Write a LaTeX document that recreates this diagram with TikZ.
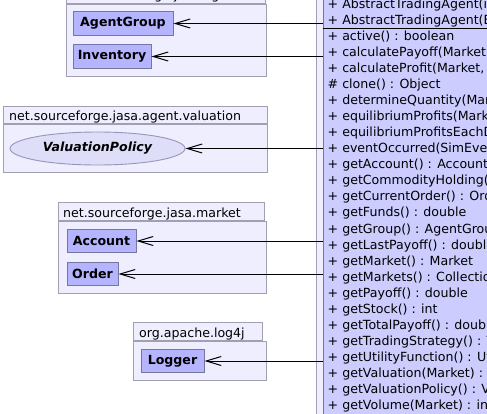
\documentclass[tikz,border=0pt]{standalone}
\usepackage{fontspec}
\setmainfont{DejaVu Sans}
\usepackage{xcolor}
\usepackage{tikz}
\usetikzlibrary{shapes.geometric, arrows.meta, positioning}
\definecolor{pkgfill}{RGB}{238,238,255}
\definecolor{pkgline}{RGB}{160,160,178}
\definecolor{bigfill}{RGB}{204,204,255}
\definecolor{clsfill}{RGB}{180,180,255}
\definecolor{clsline}{RGB}{118,118,160}
\definecolor{ellfill}{RGB}{222,222,248}
\definecolor{ellline}{RGB}{150,150,185}
\newcommand{\umlfont}{\fontsize{12.6pt}{15pt}\selectfont}

\begin{document}
\begin{tikzpicture}[
  x=1pt, y=-1pt,
  pkgbox/.style={rectangle, draw=pkgline, fill=pkgfill, line width=0.9pt, inner sep=0pt},
  pkgtxt/.style={inner sep=0pt, font=\umlfont},
  cls/.style={rectangle, draw=clsline, fill=clsfill, line width=0.9pt, inner sep=0pt,
              minimum height=23.5pt, font=\umlfont\bfseries},
  iface/.style={ellipse, draw=ellline, fill=ellfill, line width=0.9pt, inner sep=0pt,
                font=\umlfont\bfseries\itshape},
  bigcls/.style={rectangle, draw=clsline, fill=bigfill, line width=0.9pt, inner sep=0pt},
  row/.style={anchor=base west, inner sep=0pt, font=\umlfont},
  dep/.style={-{Straight Barb[length=15pt, width=9pt, line width=1pt]}, line width=1pt, black},
]
\useasboundingbox (0,0) rectangle (487,413);
\clip (0,0) rectangle (487,413);

% Paquete de la clase principal (derecha)
\node[pkgbox, anchor=north west, minimum width=200pt, minimum height=460pt] at (316,-20) (pkgmain) {};
\node[bigcls, anchor=north west, minimum width=200pt, minimum height=460pt] at (322.5,-20) (agent) {};
\coordinate (sepl) at (322.5,28.5);
\draw[black, line width=0.9pt] (sepl) -- (agent.east |- sepl);

% Constructores y metodos
\node[row] at (327.5,8.5)   (c1)  {+ AbstractTradingAgent(i};
\node[row] at (327.5,24)    (c2)  {+ AbstractTradingAgent(E};
\node[row] at (327.5,40.5)  (m1)  {+ active() : boolean};
\node[row] at (327.5,56.5)  (m2)  {+ calculatePayoff(Market,};
\node[row] at (327.5,72.6)  (m3)  {+ calculateProfit(Market,};
\node[row] at (327.5,88.6)  (m4)  {\# clone() : Object};
\node[row] at (327.5,104.7) (m5)  {+ determineQuantity(Mar};
\node[row] at (327.5,120.7) (m6)  {+ equilibriumProfits(Marke};
\node[row] at (327.5,136.7) (m7)  {+ equilibriumProfitsEachD};
\node[row] at (327.5,152.8) (m8)  {+ eventOccurred(SimEvent};
\node[row] at (327.5,168.8) (m9)  {+ getAccount() : Account};
\node[row] at (327.5,184.9) (m10) {+ getCommodityHolding() :};
\node[row] at (327.5,200.9) (m11) {+ getCurrentOrder() : Order};
\node[row] at (327.5,216.9) (m12) {+ getFunds() : double};
\node[row] at (327.5,233.0) (m13) {+ getGroup() : AgentGroup};
\node[row] at (327.5,249.0) (m14) {+ getLastPayoff() : double};
\node[row] at (327.5,265.1) (m15) {+ getMarket() : Market};
\node[row] at (327.5,281.1) (m16) {+ getMarkets() : Collection};
\node[row] at (327.5,297.1) (m17) {+ getPayoff() : double};
\node[row] at (327.5,313.2) (m18) {+ getStock() : int};
\node[row] at (327.5,329.2) (m19) {+ getTotalPayoff() : double};
\node[row] at (327.5,345.3) (m20) {+ getTradingStrategy() : T};
\node[row] at (327.5,361.3) (m21) {+ getUtilityFunction() : Ut};
\node[row] at (327.5,377.3) (m22) {+ getValuation(Market) :};
\node[row] at (327.5,393.4) (m23) {+ getValuationPolicy() : V};
\node[row] at (327.5,409.4) (m24) {+ getVolume(Market) : int};

% Paquete net.sourceforge.jasa.agent
\node[pkgbox, anchor=south west, minimum width=199pt, minimum height=18pt] at (66,4) (tabagent) {};
\node[pkgbox, anchor=north west, minimum width=200pt, minimum height=72pt] at (66,4) (pkgagent) {};
\node[pkgtxt, anchor=base west] at (70.5,-0.5) (txtagent) {net.sourceforge.jasa.agent};
\node[cls, minimum width=100pt] at (123,23.5) (group) {AgentGroup};
\node[cls, minimum width=78pt]  at (112,56.5) (inventory) {Inventory};

% Paquete net.sourceforge.jasa.agent.valuation
\node[pkgbox, anchor=south west, minimum width=264pt, minimum height=17pt] at (3,124) (tabval) {};
\node[pkgbox, anchor=north west, minimum width=264pt, minimum height=48pt] at (3,124) (pkgval) {};
\node[pkgtxt, anchor=base west] at (9,120.5) (txtval) {net.sourceforge.jasa.agent.valuation};
\node[iface, minimum width=175pt, minimum height=33pt] at (97.5,148.5) (valpolicy) {ValuationPolicy};

% Paquete net.sourceforge.jasa.market
\node[pkgbox, anchor=south west, minimum width=206pt, minimum height=18pt] at (58,221) (tabmarket) {};
\node[pkgbox, anchor=north west, minimum width=208pt, minimum height=72pt] at (58,221) (pkgmarket) {};
\node[pkgtxt, anchor=base west] at (63,217) (txtmarket) {net.sourceforge.jasa.market};
\node[cls, minimum width=69pt] at (101.5,241) (account) {Account};
\node[cls, minimum width=51pt] at (92.5,274)  (order) {Order};

% Paquete org.apache.log4j
\node[pkgbox, anchor=south west, minimum width=129pt, minimum height=18pt] at (133,341) (tablog) {};
\node[pkgbox, anchor=north west, minimum width=133pt, minimum height=39pt] at (133,341) (pkglog) {};
\node[pkgtxt, anchor=base west] at (139,337) (txtlog) {org.apache.log4j};
\node[cls, minimum width=63pt] at (172.5,361) (logger) {Logger};

% Dependencias
\draw[dep] (agent.west |- group)     -- (group.east);
\draw[dep] (agent.west |- inventory) -- (inventory.east);
\draw[dep] (agent.west |- valpolicy) -- (valpolicy.east);
\draw[dep] (agent.west |- account)   -- (account.east);
\draw[dep] (agent.west |- order)     -- (order.east);
\draw[dep] (agent.west |- logger)    -- (logger.east);

\end{tikzpicture}
\end{document}
